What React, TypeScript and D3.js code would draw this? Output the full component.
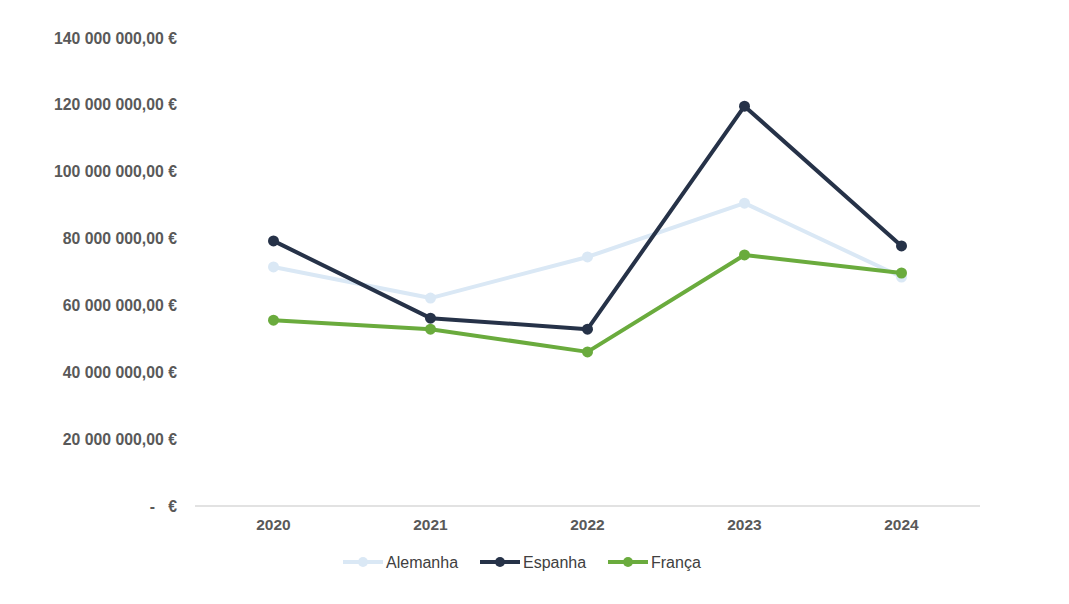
import React, { useRef, useEffect } from "react";
import * as d3 from "d3";

const years = ["2020", "2021", "2022", "2023", "2024"];
const seriesNames = ["Alemanha", "Espanha", "França"];
const alemanha = [71.5e6, 62.2e6, 74.5e6, 90.6e6, 68.5e6];
const espanha = [79.3e6, 56.2e6, 52.9e6, 119.6e6, 77.8e6];
const franca = [55.6e6, 52.9e6, 46.1e6, 75.1e6, 69.7e6];
const yTicks = [0, 20e6, 40e6, 60e6, 80e6, 100e6, 120e6, 140e6];
const colors = ["#dae8f5", "#263248", "#6aab3d"];

const App = () => {
  const canvas = useRef<SVGSVGElement>(null);
  const width = 1069;
  const height = 604;
  const margin = { top: 38, right: 89, bottom: 98, left: 195 };

  useEffect(() => {
    const svg = d3.select(canvas.current);
    svg.selectAll("*").remove();

    const x = d3.scaleBand().domain(years).range([margin.left, width - margin.right]);
    const y = d3.scaleLinear().domain([0, 140e6]).range([height - margin.bottom, margin.top]);

    const fmt = (v: number) =>
      v === 0 ? "-   €" : d3.format(",.2f")(v).replace(/,/g, " ").replace(".", ",") + " €";

    // y labels
    svg.append("g")
      .selectAll("text")
      .data(yTicks)
      .enter()
      .append("text")
      .attr("x", margin.left - 18)
      .attr("y", (d) => y(d))
      .attr("dy", "0.35em")
      .attr("text-anchor", "end")
      .attr("font-family", "Arial, 'Liberation Sans', sans-serif")
      .attr("font-weight", "bold")
      .attr("font-size", 15.8)
      .attr("fill", "#595959")
      .attr("xml:space", "preserve")
      .style("white-space", "pre")
      .text(fmt);

    // baseline
    svg.append("line")
      .attr("x1", margin.left)
      .attr("x2", width - margin.right)
      .attr("y1", y(0))
      .attr("y2", y(0))
      .attr("stroke", "#d9d9d9")
      .attr("stroke-width", 1.5);

    // x labels
    svg.append("g")
      .selectAll("text")
      .data(years)
      .enter()
      .append("text")
      .attr("x", (d) => (x(d) as number) + x.bandwidth() / 2)
      .attr("y", y(0) + 19)
      .attr("dy", "0.35em")
      .attr("text-anchor", "middle")
      .attr("font-family", "Arial, 'Liberation Sans', sans-serif")
      .attr("font-weight", "bold")
      .attr("font-size", 15.5)
      .attr("fill", "#595959")
      .text((d) => d);

    const all = [alemanha, espanha, franca];
    const line = d3.line<number>()
      .x((_, i) => (x(years[i]) as number) + x.bandwidth() / 2)
      .y((d) => y(d));

    all.forEach((vals, si) => {
      svg.append("path")
        .datum(vals)
        .attr("d", line)
        .attr("fill", "none")
        .attr("stroke", colors[si])
        .attr("stroke-width", 4)
        .attr("stroke-linejoin", "round");
      svg.append("g")
        .selectAll("circle")
        .data(vals)
        .enter()
        .append("circle")
        .attr("cx", (_, i) => (x(years[i]) as number) + x.bandwidth() / 2)
        .attr("cy", (d) => y(d))
        .attr("r", 5.5)
        .attr("fill", colors[si]);
    });

    // legend
    const legendX = [343, 480, 608];
    const legendY = 562;
    seriesNames.forEach((name, i) => {
      const g = svg.append("g").attr("transform", `translate(${legendX[i]},${legendY})`);
      g.append("line")
        .attr("x1", 0).attr("x2", 40)
        .attr("y1", 0).attr("y2", 0)
        .attr("stroke", colors[i])
        .attr("stroke-width", 4);
      g.append("circle").attr("cx", 20).attr("cy", 0).attr("r", 5).attr("fill", colors[i]);
      g.append("text")
        .attr("x", 43)
        .attr("y", 0)
        .attr("dy", "0.35em")
        .attr("font-family", "Arial, 'Liberation Sans', sans-serif")
        .attr("font-size", 16)
        .attr("fill", "#404040")
        .text(name);
    });
  });

  return (
    <svg
      ref={canvas}
      width={width}
      height={height}
      style={{ position: "absolute", left: 0, top: 0, background: "#fff" }}
    ></svg>
  );
};

export default App;
